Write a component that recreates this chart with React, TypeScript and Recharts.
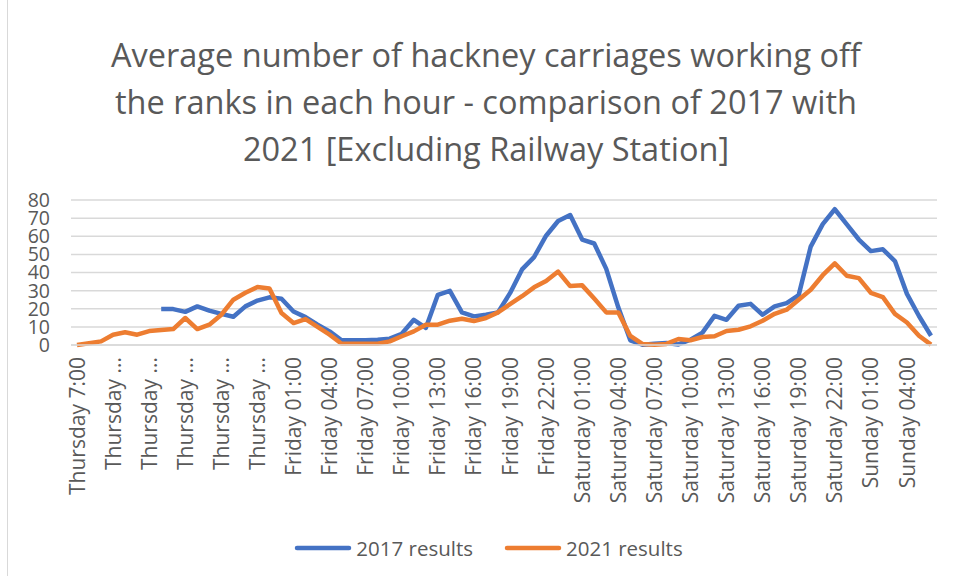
import { CartesianGrid, Legend, Line, LineChart, XAxis, YAxis } from "recharts";

const hours = [
  "Thursday 7:00", "Thursday 8:00", "Thursday 9:00", "Thursday 10:00", "Thursday 11:00", "Thursday 12:00",
  "Thursday 13:00", "Thursday 14:00", "Thursday 15:00", "Thursday 16:00", "Thursday 17:00", "Thursday 18:00",
  "Thursday 19:00", "Thursday 20:00", "Thursday 21:00", "Thursday 22:00", "Thursday 23:00",
  "Friday 00:00", "Friday 01:00", "Friday 02:00", "Friday 03:00", "Friday 04:00", "Friday 05:00",
  "Friday 06:00", "Friday 07:00", "Friday 08:00", "Friday 09:00", "Friday 10:00", "Friday 11:00",
  "Friday 12:00", "Friday 13:00", "Friday 14:00", "Friday 15:00", "Friday 16:00", "Friday 17:00",
  "Friday 18:00", "Friday 19:00", "Friday 20:00", "Friday 21:00", "Friday 22:00", "Friday 23:00",
  "Saturday 00:00", "Saturday 01:00", "Saturday 02:00", "Saturday 03:00", "Saturday 04:00", "Saturday 05:00",
  "Saturday 06:00", "Saturday 07:00", "Saturday 08:00", "Saturday 09:00", "Saturday 10:00", "Saturday 11:00",
  "Saturday 12:00", "Saturday 13:00", "Saturday 14:00", "Saturday 15:00", "Saturday 16:00", "Saturday 17:00",
  "Saturday 18:00", "Saturday 19:00", "Saturday 20:00", "Saturday 21:00", "Saturday 22:00", "Saturday 23:00",
  "Sunday 00:00", "Sunday 01:00", "Sunday 02:00", "Sunday 03:00", "Sunday 04:00", "Sunday 05:00",
  "Sunday 06:00",
];

// what Excel actually shows under every third category
const tickLabels = [
  "Thursday 7:00", "Thursday ...", "Thursday ...", "Thursday ...", "Thursday ...", "Thursday ...",
  "Friday 01:00", "Friday 04:00", "Friday 07:00", "Friday 10:00", "Friday 13:00", "Friday 16:00",
  "Friday 19:00", "Friday 22:00", "Saturday 01:00", "Saturday 04:00", "Saturday 07:00", "Saturday 10:00",
  "Saturday 13:00", "Saturday 16:00", "Saturday 19:00", "Saturday 22:00", "Sunday 01:00", "Sunday 04:00",
];

const results2017 = [
  null, null, null, null, null, null, null, 19.8, 19.8, 18.3, 21.3, 19,
  17.2, 15.6, 21.3, 24.5, 26.3, 25.5, 18.5, 15.4, 11.2, 7.5, 2.6, 2.6,
  2.6, 2.9, 3.5, 6.2, 13.9, 9.4, 27.7, 29.9, 18, 15.8, 16.7, 18,
  28.6, 41.7, 48.5, 60.3, 68.4, 71.7, 58.2, 56, 42, 20.8, 2.6, 0.2,
  0.7, 1.1, 0.3, 2.9, 6.8, 16.1, 13.9, 21.7, 22.7, 16.7, 21.3, 23.1,
  27.5, 54.3, 66.7, 74.9, 66.5, 58.2, 51.8, 52.8, 46.3, 28.2, 16, 5.1,
];

const results2021 = [
  0, 1, 2, 5.7, 7, 5.7, 7.7, 8.3, 8.8, 14.9, 8.8, 11.2,
  16.7, 25, 28.8, 32, 31.2, 17.6, 12.1, 14.3, 10, 5.7, 0.7, 0.7,
  0.7, 0.7, 2, 4.8, 7.5, 11.2, 11.2, 13.4, 14.5, 13.2, 14.9, 18,
  22.5, 26.9, 31.8, 35.3, 40.5, 32.5, 32.9, 25.6, 18, 18, 5, 0.6,
  0.2, 0.6, 3.3, 2.6, 4.4, 4.8, 7.7, 8.4, 10.3, 13.4, 17.2, 19.5,
  25, 30.5, 38.5, 45, 38.2, 36.9, 28.8, 26.4, 17.2, 12.4, 5.1, 0.2,
];

const yTicks = [0, 10, 20, 30, 40, 50, 60, 70, 80];

const data = hours.map((hour, i) => ({
  hour,
  r2017: results2017[i],
  r2021: results2021[i],
}));

const shownLabel: Record<string, string> = {};
tickLabels.forEach((label, k) => {
  shownLabel[hours[k * 3]] = label;
});

const TEXT = "#595959";
const BLUE = "#4472C4";
const ORANGE = "#ED7D31";
const FONT = "'Open Sans', sans-serif";

function HourTick({ x, y, payload }: any) {
  return (
    <g transform={`translate(${x},${y})`}>
      <text
        transform="rotate(-90)"
        x={-4}
        dy="0.36em"
        textAnchor="end"
        fill={TEXT}
        fontSize={21}
        fontFamily={FONT}
      >
        {shownLabel[payload.value] ?? payload.value}
      </text>
    </g>
  );
}

function LegendBox() {
  const items = [
    { name: "2017 results", color: BLUE },
    { name: "2021 results", color: ORANGE },
  ];
  return (
    <div style={{ display: "flex", justifyContent: "center", gap: 31, height: 36, alignItems: "center", paddingLeft: 40 }}>
      {items.map((it) => (
        <div key={it.name} style={{ display: "flex", alignItems: "center", gap: 4 }}>
          <svg width={58} height={10}>
            <line x1={3} y1={5} x2={55} y2={5} stroke={it.color} strokeWidth={4.5} strokeLinecap="round" />
          </svg>
          <span style={{ fontSize: 20.5, color: TEXT, fontFamily: FONT }}>{it.name}</span>
        </div>
      ))}
    </div>
  );
}

export default function App() {
  return (
    <div
      style={{
        position: "absolute",
        left: 0,
        top: 0,
        width: 957,
        height: 576,
        background: "#fff",
        fontFamily: FONT,
        overflow: "hidden",
      }}
    >
      <div style={{ position: "absolute", left: 7, top: 0, width: 1, height: 576, background: "#D9D9D9" }} />
      <div
        style={{
          position: "absolute",
          left: 0,
          top: 31,
          width: 972,
          textAlign: "center",
          fontSize: 32.5,
          lineHeight: "47px",
          color: TEXT,
          whiteSpace: "nowrap",
        }}
      >
        Average number of hackney carriages working off
        <br />
        the ranks in each hour - comparison of 2017 with
        <br />
        2021 [Excluding Railway Station]
      </div>
      <div style={{ position: "absolute", left: 0, top: 0 }}>
        <LineChart width={957} height={576} data={data} margin={{ top: 200, right: 20, bottom: 10, left: 0 }}>
          <CartesianGrid vertical={false} stroke="#D9D9D9" strokeWidth={1.5} />
          <XAxis
            dataKey="hour"
            interval={2}
            height={185}
            padding={{ left: 6, right: 6 }}
            axisLine={{ stroke: "#D9D9D9", strokeWidth: 1.5 }}
            tickLine={false}
            tick={<HourTick />}
          />
          <YAxis
            width={71}
            domain={[0, 80]}
            ticks={yTicks}
            interval={0}
            axisLine={false}
            tickLine={false}
            tickMargin={15}
            tick={{ fill: TEXT, fontSize: 19.5, fontFamily: FONT }}
          />
          <Legend verticalAlign="bottom" content={<LegendBox />} />
          <Line
            dataKey="r2017"
            name="2017 results"
            stroke={BLUE}
            strokeWidth={4.5}
            strokeLinejoin="round"
            dot={false}
            isAnimationActive={false}
          />
          <Line
            dataKey="r2021"
            name="2021 results"
            stroke={ORANGE}
            strokeWidth={4.5}
            strokeLinejoin="round"
            dot={false}
            isAnimationActive={false}
          />
        </LineChart>
      </div>
    </div>
  );
}
